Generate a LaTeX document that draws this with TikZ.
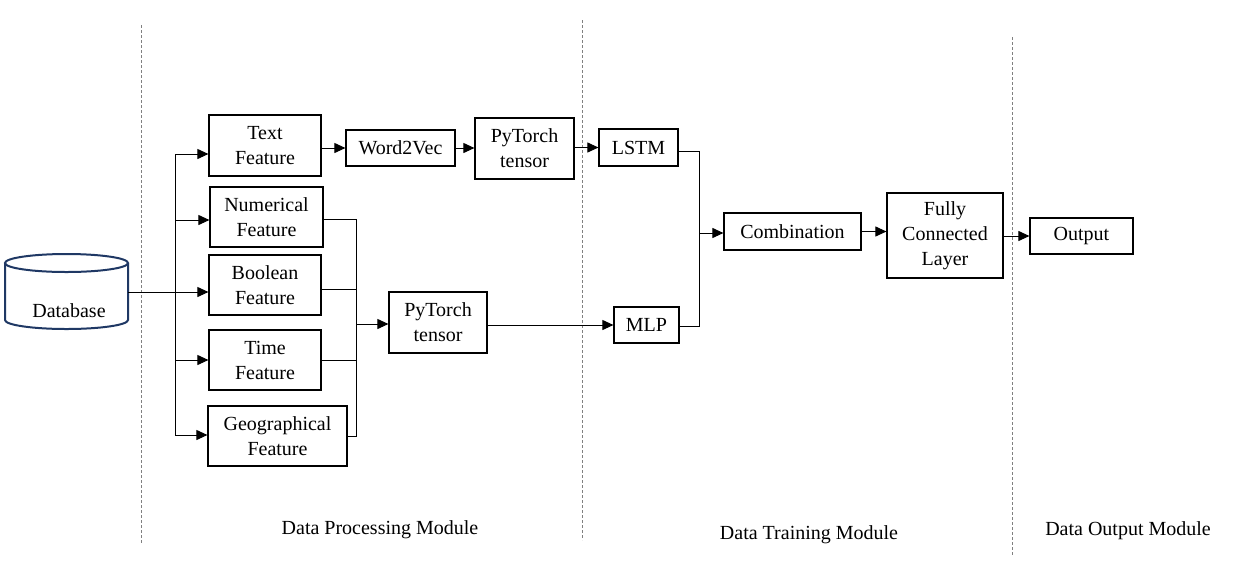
\documentclass[tikz,border=0pt]{standalone}
\usepackage{fontspec}
\setmainfont{Liberation Serif}
\usetikzlibrary{arrows.meta}
\definecolor{dbnavy}{RGB}{31,56,100}
\begin{document}
\begin{tikzpicture}[x=1pt,y=-1pt,
  box/.style={draw, line width=1.2pt, inner sep=0pt, align=center, font=\fontsize{20}{25}\selectfont},
  conn/.style={line width=1pt},
  arr/.style={conn, -{Triangle[length=11pt,width=10pt]}},
  sepline/.style={draw=gray, line width=0.8pt, dash pattern=on 3pt off 2pt},
  lab/.style={font=\fontsize{20}{25}\selectfont, inner sep=0pt},
  dbline/.style={draw=dbnavy, line width=2pt}]
\useasboundingbox[fill=white] (0,0) rectangle (1260,587);

% separators
\draw[sepline] (141,25) -- (141,543);
\draw[sepline] (582,20) -- (582,540);
\draw[sepline] (1012,37) -- (1012,555);

% database
\draw[dbline] (5,263) -- (5,320) arc[start angle=180, end angle=0, x radius=61.5, y radius=9] -- (128,263);
\draw[dbline] (66.5,263) ellipse[x radius=61.5, y radius=9];
\node[inner sep=0pt, minimum width=123pt, minimum height=75pt] (db) at (66.5,291.5) {};
\node[lab] (dbl) at (69,311) {Database};

% feature boxes
\node[box, minimum width=112pt, minimum height=61pt] (tf) at (265,145.5) {Text\\Feature};
\node[box, minimum width=113pt, minimum height=60pt] (nf) at (266.5,217) {Numerical\\Feature};
\node[box, minimum width=112pt, minimum height=60pt] (bf) at (265,285) {Boolean\\Feature};
\node[box, minimum width=112pt, minimum height=60pt] (tmf) at (265,360) {Time\\Feature};
\node[box, minimum width=139pt, minimum height=60pt] (gf) at (277.5,436) {Geographical\\Feature};

\node[box, minimum width=109pt, minimum height=36pt] (w2v) at (400.5,148) {Word2Vec};
\node[box, minimum width=99pt, minimum height=61pt] (pt1) at (524.5,148.5) {PyTorch\\tensor};
\node[box, minimum width=79pt, minimum height=37pt] (lstm) at (638.5,147.5) {LSTM};
\node[box, minimum width=98pt, minimum height=61pt] (pt2) at (438,322.5) {PyTorch\\tensor};
\node[box, minimum width=65pt, minimum height=36pt] (mlp) at (646.5,325) {MLP};
\node[box, minimum width=137pt, minimum height=37pt] (comb) at (792.5,231.5) {Combination};
\node[box, minimum width=116pt, minimum height=85pt] (fc) at (945,235.5) {Fully\\Connected\\Layer};
\node[box, minimum width=103pt, minimum height=36pt] (out) at (1081.5,236) {Output};

% module labels
\node[lab] (l1) at (380,530) {Data Processing Module};
\node[lab] (l2) at (809,535) {Data Training Module};
\node[lab] (l3) at (1128,531) {Data Output Module};

% database fan-out
\coordinate (trT) at (175,154);
\coordinate (trN) at (175,220);
\coordinate (trBo) at (175,292);
\coordinate (trTi) at (175,360);
\coordinate (trB) at (175,435);
\draw[conn] (db.east |- trBo) -- (trBo);
\draw[conn] (trT) -- (trB);
\draw[arr] (trT) -- (trT -| tf.west);
\draw[arr] (trN) -- (trN -| nf.west);
\draw[arr] (trBo) -- (trBo -| bf.west);
\draw[arr] (trTi) -- (trTi -| tmf.west);
\draw[arr] (trB) -- (trB -| gf.west);

% collector to PyTorch tensor
\coordinate (cN) at (356,219);
\coordinate (cB) at (356,289);
\coordinate (cT) at (356,360);
\coordinate (cG) at (356,436);
\coordinate (cM) at (356,324);
\draw[conn] (cN -| nf.east) -- (cN) -- (cG) -- (cG -| gf.east);
\draw[conn] (cB -| bf.east) -- (cB);
\draw[conn] (cT -| tmf.east) -- (cT);
\draw[arr] (cM) -- (cM -| pt2.west);
\draw[arr] (pt2.east |- mlp.west) -- (mlp.west);

% text path
\draw[arr] (tf.east |- w2v.west) -- (w2v.west);
\draw[arr] (w2v.east) -- (w2v.east -| pt1.west);
\draw[arr] (pt1.east |- lstm.west) -- (lstm.west);

% join
\coordinate (jL) at (699,151);
\coordinate (jM) at (699,326);
\coordinate (jC) at (699,233);
\draw[conn] (lstm.east |- jL) -- (jL) -- (jM) -- (jM -| mlp.east);
\draw[arr] (jC) -- (jC -| comb.west);
\draw[arr] (comb.east) -- (comb.east -| fc.west);
\draw[arr] (fc.east |- out.west) -- (out.west);
\end{tikzpicture}
\end{document}
